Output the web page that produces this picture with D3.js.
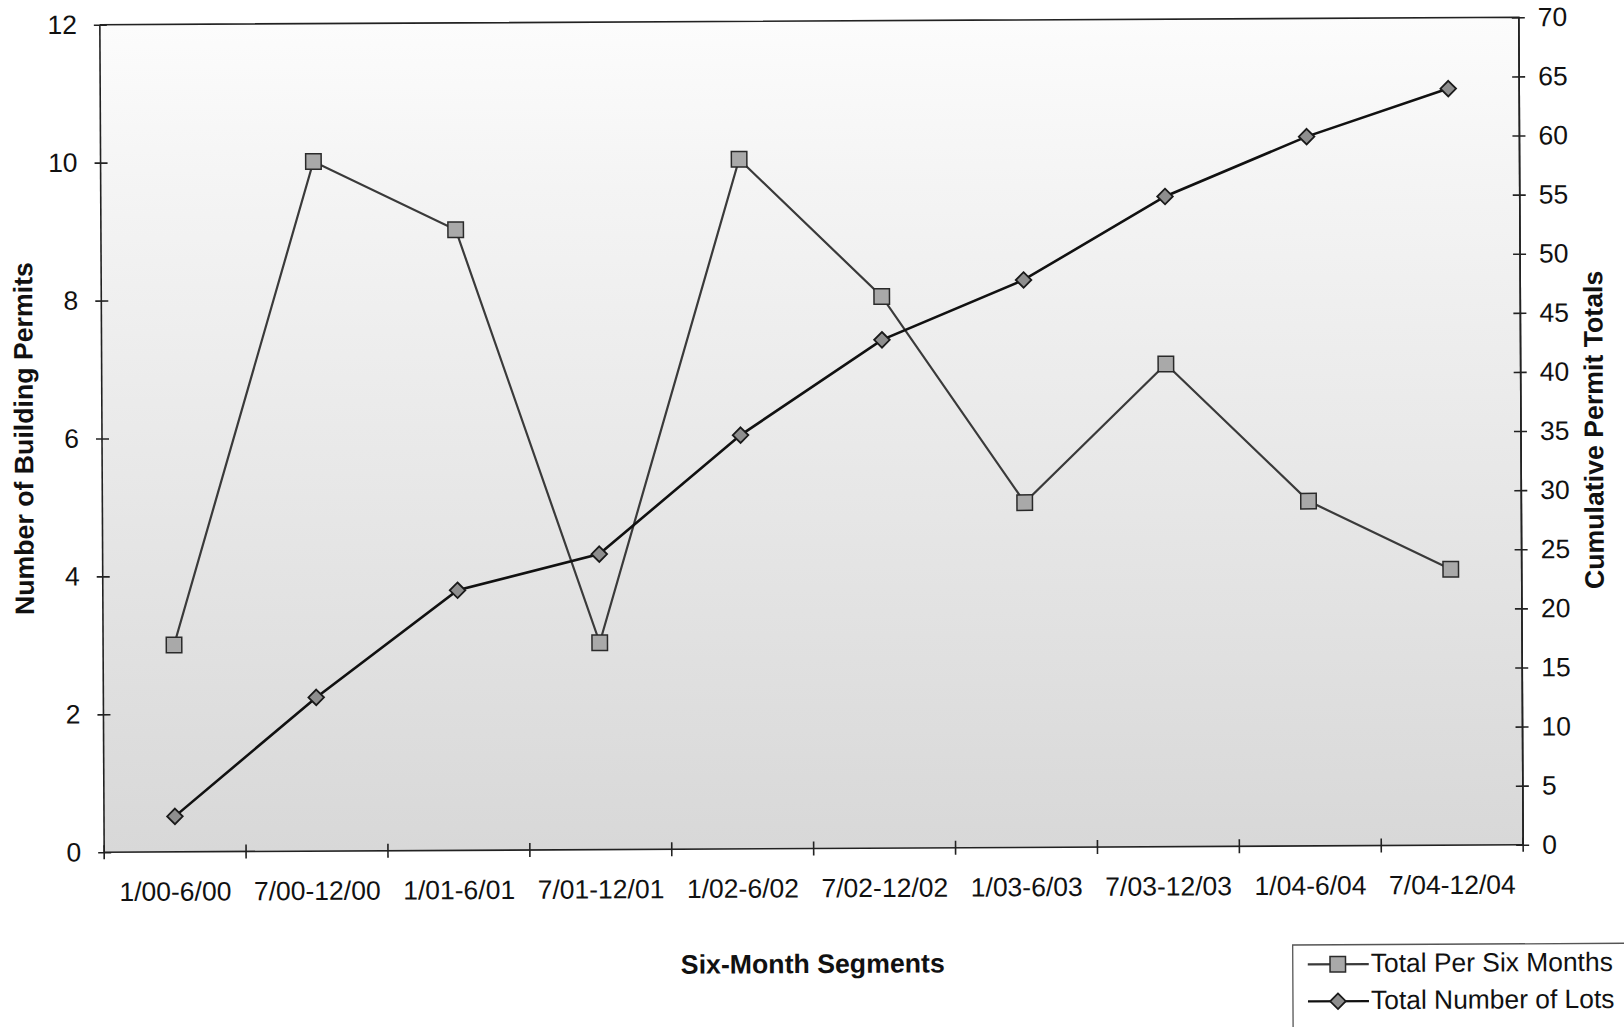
<!DOCTYPE html>
<html>
<head>
<meta charset="utf-8">
<script src="https://cdn.jsdelivr.net/npm/d3@7"></script>
<style>
  html, body { margin: 0; padding: 0; background: #ffffff; }
  svg { display: block; }
  text { font-family: "Liberation Sans", Arial, sans-serif; fill: #111; }
</style>
</head>
<body>
<svg id="chart" width="1624" height="1027"></svg>
<script>
// ---------- data ----------
const categories = ["1/00-6/00", "7/00-12/00", "1/01-6/01", "7/01-12/01", "1/02-6/02",
                    "7/02-12/02", "1/03-6/03", "7/03-12/03", "1/04-6/04", "7/04-12/04"];
const perSixMonths = [3, 10, 9, 3, 10, 8, 5, 7, 5, 4];
const cumulativeLots = [3, 13, 22, 25, 35, 43, 48, 55, 60, 64];
const leftTicks = [0, 2, 4, 6, 8, 10, 12];
const rightTicks = [0, 5, 10, 15, 20, 25, 30, 35, 40, 45, 50, 55, 60, 65, 70];
const seriesNames = ["Total Per Six Months", "Total Number of Lots"];
const xTitle = "Six-Month Segments";
const yLeftTitle = "Number of Building Permits";
const yRightTitle = "Cumulative Permit Totals";

// ---------- layout ----------
const plot = { left: 102, right: 1521, top: 21, bottom: 848.5 };
const svg = d3.select("#chart");
const defs = svg.append("defs");

const grad = defs.append("linearGradient").attr("id", "bg")
  .attr("x1", 0).attr("y1", 0).attr("x2", 0).attr("y2", 1);
grad.append("stop").attr("offset", "0%").attr("stop-color", "#fcfcfc");
grad.append("stop").attr("offset", "20%").attr("stop-color", "#f4f4f4");
grad.append("stop").attr("offset", "100%").attr("stop-color", "#d8d8d8");

const root = svg.append("g").attr("transform", "rotate(-0.3, 812, 435)");

// ---------- scales ----------
const x = d3.scaleBand().domain(categories).range([plot.left, plot.right]).padding(0);
const cx = c => x(c) + x.bandwidth() / 2;
const yL = d3.scaleLinear().domain([0, 12]).range([plot.bottom, plot.top]);
const yR = d3.scaleLinear().domain([0, 70]).range([plot.bottom, plot.top]);

// ---------- plot background ----------
root.append("rect")
  .attr("x", plot.left).attr("y", plot.top)
  .attr("width", plot.right - plot.left).attr("height", plot.bottom - plot.top)
  .attr("fill", "url(#bg)");

// plot border (top & right)
root.append("path")
  .attr("d", `M${plot.left},${plot.top}H${plot.right}V${plot.bottom}`)
  .attr("fill", "none").attr("stroke", "#222").attr("stroke-width", 1.6);

// ---------- axes ----------
const axL = root.append("g").attr("transform", `translate(${plot.left},0)`)
  .call(d3.axisLeft(yL).tickValues(leftTicks).tickFormat(d3.format("d")).tickSize(6).tickPadding(17));
axL.selectAll(".tick line").attr("x1", 7).attr("x2", -6);
axL.select(".domain").attr("d", `M0,${plot.top}V${plot.bottom}`);

const axR = root.append("g").attr("transform", `translate(${plot.right},0)`)
  .call(d3.axisRight(yR).tickValues(rightTicks).tickFormat(d3.format("d")).tickSize(6).tickPadding(13));
axR.selectAll(".tick line").attr("x1", -7).attr("x2", 6);
axR.select(".domain").attr("d", `M0,${plot.top}V${plot.bottom}`);

const axB = root.append("g").attr("transform", `translate(0,${plot.bottom})`)
  .call(d3.axisBottom(x).tickSize(0).tickPadding(30));
axB.select(".domain").attr("d", `M${plot.left},0H${plot.right}`);
// boundary ticks
const bounds = categories.map(c => x(c)).concat([x(categories[categories.length - 1]) + x.bandwidth()]);
axB.selectAll("line.bt").data(bounds).join("line").attr("class", "bt")
  .attr("x1", d => d).attr("x2", d => d).attr("y1", -7).attr("y2", 7);

[axL, axR, axB].forEach(a => {
  a.selectAll("path, line").attr("stroke", "#222").attr("stroke-width", 1.6);
  a.selectAll("text").attr("font-size", 26.5).attr("fill", "#111")
    .attr("font-family", "'Liberation Sans', Arial, sans-serif");
});

// ---------- titles ----------
root.append("text").attr("x", 810).attr("y", 973).attr("text-anchor", "middle")
  .attr("font-size", 26.7).attr("font-weight", "bold").text(xTitle);
root.append("text").attr("transform", "translate(33,434.5) rotate(-90)")
  .attr("text-anchor", "middle").attr("font-size", 26.7).attr("font-weight", "bold").text(yLeftTitle);
root.append("text").attr("transform", "translate(1603,434) rotate(-90)")
  .attr("text-anchor", "middle").attr("font-size", 26.7).attr("font-weight", "bold").text(yRightTitle);

// ---------- series ----------
const data1 = categories.map((c, i) => ({ c, v: perSixMonths[i] }));
const data2 = categories.map((c, i) => ({ c, v: cumulativeLots[i] }));

root.append("path").datum(data1)
  .attr("d", d3.line().x(d => cx(d.c)).y(d => yL(d.v)))
  .attr("fill", "none").attr("stroke", "#3a3a3a").attr("stroke-width", 2.2);
root.append("path").datum(data2)
  .attr("d", d3.line().x(d => cx(d.c)).y(d => yR(d.v)))
  .attr("fill", "none").attr("stroke", "#111").attr("stroke-width", 2.6);

const sq = 15.5, dm = 7.8;
function square(g, px, py) {
  g.append("rect").attr("x", px - sq / 2).attr("y", py - sq / 2)
    .attr("width", sq).attr("height", sq)
    .attr("fill", "#a9a9a9").attr("stroke", "#2a2a2a").attr("stroke-width", 1.5);
}
function diamond(g, px, py) {
  g.append("path")
    .attr("d", `M${px},${py - dm}L${px + dm},${py}L${px},${py + dm}L${px - dm},${py}Z`)
    .attr("fill", "#8e8e8e").attr("stroke", "#1a1a1a").attr("stroke-width", 1.8);
}
const m1 = root.append("g");
data1.forEach(d => square(m1, cx(d.c), yL(d.v)));
const m2 = root.append("g");
data2.forEach(d => diamond(m2, cx(d.c), yR(d.v)));

// ---------- legend ----------
const lg = root.append("g");
lg.append("rect").attr("x", 1290).attr("y", 947.5).attr("width", 400).attr("height", 120)
  .attr("fill", "#fff").attr("stroke", "#555").attr("stroke-width", 1.3);
const rows = [967, 1004];
rows.forEach((ry, i) => {
  lg.append("line").attr("x1", 1305).attr("x2", 1366).attr("y1", ry).attr("y2", ry)
    .attr("stroke", i === 0 ? "#3a3a3a" : "#111").attr("stroke-width", 2.2);
  if (i === 0) square(lg, 1335, ry); else diamond(lg, 1335, ry);
  lg.append("text").attr("x", 1368).attr("y", ry + 8).attr("font-size", 26.4).text(seriesNames[i]);
});
</script>
</body>
</html>
